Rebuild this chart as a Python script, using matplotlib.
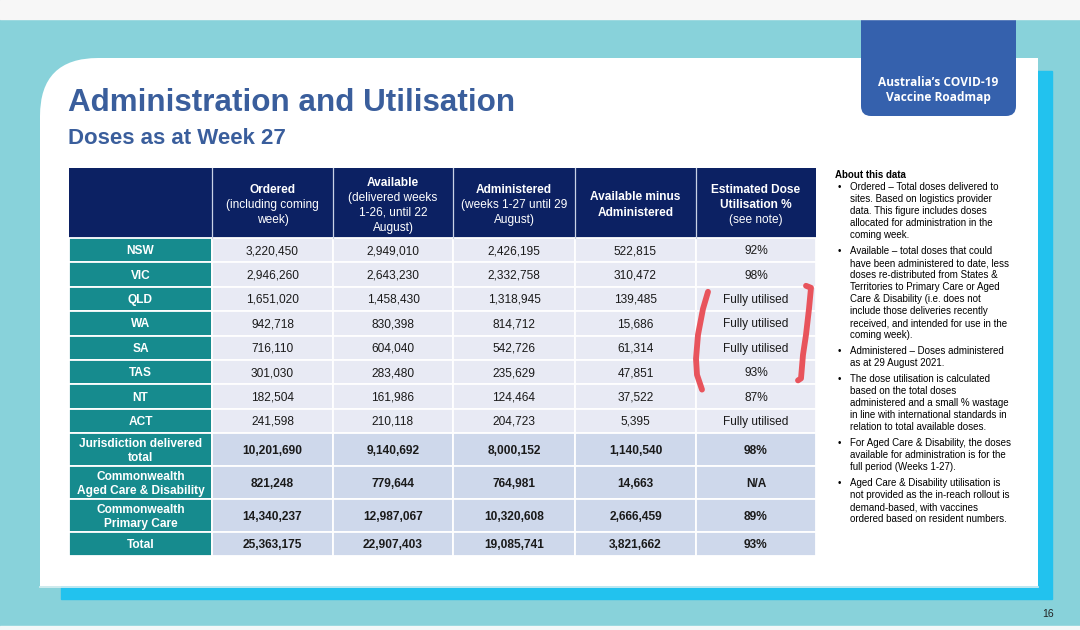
"""Slide recreation: COVID-19 vaccine administration and utilisation table (week 27)."""

import matplotlib.pyplot as plt
from matplotlib.patches import Rectangle, FancyBboxPatch, PathPatch
from matplotlib.path import Path

plt.rcParams["font.family"] = ["Liberation Sans", "DejaVu Sans"]

W, H = 1080, 630

# ---- table data -------------------------------------------------------------
row_labels = [
    "NSW", "VIC", "QLD", "WA", "SA", "TAS", "NT", "ACT",
    "Jurisdiction delivered\ntotal",
    "Commonwealth\nAged Care & Disability",
    "Commonwealth\nPrimary Care",
    "Total",
]
ordered = [3220450, 2946260, 1651020, 942718, 716110, 301030, 182504, 241598,
           10201690, 821248, 14340237, 25363175]
available = [2949010, 2643230, 1458430, 830398, 604040, 283480, 161986, 210118,
             9140692, 779644, 12987067, 22907403]
administered = [2426195, 2332758, 1318945, 814712, 542726, 235629, 124464, 204723,
                8000152, 764981, 10320608, 19085741]
available_minus_admin = [522815, 310472, 139485, 15686, 61314, 47851, 37522, 5395,
                         1140540, 14663, 2666459, 3821662]
utilisation = ["92%", "98%", "Fully utilised", "Fully utilised", "Fully utilised",
               "93%", "87%", "Fully utilised", "98%", "N/A", "89%", "93%"]
summary_rows = [8, 9, 10, 11]

header_lines = [
    ["Ordered", "(including coming", "week)"],
    ["Available", "(delivered weeks", "1-26, until 22", "August)"],
    ["Administered", "(weeks 1-27 until 29", "August)"],
    ["Available minus", "Administered"],
    ["Estimated Dose", "Utilisation %", "(see note)"],
]
header_bold_count = [1, 1, 1, 2, 2]

notes = [
    ["Ordered \u2013 Total doses delivered to",
     "sites. Based on logistics provider",
     "data. This figure includes doses",
     "allocated for administration in the",
     "coming week."],
    ["Available \u2013 total doses that could",
     "have been administered to date, less",
     "doses re-distributed from States &",
     "Territories to Primary Care or Aged",
     "Care & Disability (i.e. does not",
     "include those deliveries recently",
     "received, and intended for use in the",
     "coming week)."],
    ["Administered \u2013 Doses administered",
     "as at 29 August 2021."],
    ["The dose utilisation is calculated",
     "based on the total doses",
     "administered and a small % wastage",
     "in line with international standards in",
     "relation to total available doses."],
    ["For Aged Care & Disability, the doses",
     "available for administration is for the",
     "full period (Weeks 1-27)."],
    ["Aged Care & Disability utilisation is",
     "not provided as the in-reach rollout is",
     "demand-based, with vaccines",
     "ordered based on resident numbers."],
]

# ---- layout / colours -------------------------------------------------------
COL_EDGES = [69, 212, 333, 453, 575, 696, 816]
HEADER_TOP, HEADER_BOTTOM = 168, 238
ROW_HEIGHTS = [24.4] * 8 + [33, 33, 33, 24]

TEAL_BG = "#88D2DA"
CYAN = "#22C2EE"
BADGE = "#3561AD"
TITLE_BLUE = "#3A5E9C"
HEADER_NAVY = "#0C2163"
LABEL_TEAL = "#168B8E"
CELL_LIGHT = "#E8EAF4"
CELL_SUMMARY = "#CED8EB"
TEXT_DARK = "#1A1A1A"
RED_PEN = "#E8545C"


def fmt(v):
    return f"{v:,}"


fig = plt.figure(figsize=(10.8, 6.3), dpi=100)
ax = fig.add_axes([0, 0, 1, 1])
ax.set_xlim(0, W)
ax.set_ylim(H, 0)
ax.axis("off")

# background pieces
ax.add_patch(Rectangle((0, 0), W, H, color=TEAL_BG, zorder=0))
ax.add_patch(Rectangle((0, 0), W, 19, color="#F7F7F7", zorder=5))
ax.add_patch(Rectangle((0, 626), W, 4, color="#F3F8F8", zorder=5))
ax.add_patch(Rectangle((61, 71), 1052 - 61, 599 - 71, color=CYAN, zorder=1))

# white card with a rounded top-left corner
R = 58
card = Path(
    [(40 + R, 58), (1038, 58), (1038, 586), (40, 586), (40, 58 + R), (40, 58), (40 + R, 58), (40 + R, 58)],
    [Path.MOVETO, Path.LINETO, Path.LINETO, Path.LINETO, Path.LINETO, Path.CURVE3, Path.CURVE3, Path.CLOSEPOLY],
)
ax.add_patch(PathPatch(card, facecolor="white", edgecolor="none", zorder=2))
ax.plot([40, 1038], [586.5, 586.5], color="#DDEFF2", lw=1.2, zorder=2)

# roadmap badge
ax.add_patch(FancyBboxPatch((861, 0), 155, 116, boxstyle="round,pad=0,rounding_size=10",
                            facecolor=BADGE, edgecolor="none", zorder=4))
ax.text(938.5, 90, "Australia\u2019s COVID-19\nVaccine Roadmap", ha="center", va="center",
        color="white", fontsize=8.6, fontweight="bold", linespacing=1.3,
        family=["Open Sans", "DejaVu Sans"], zorder=6)

# titles
ax.text(68, 103, "Administration and Utilisation", ha="left", va="center",
        fontsize=22.6, fontweight="bold", color=TITLE_BLUE, zorder=3)
ax.text(68, 139, "Doses as at Week 27", ha="left", va="center",
        fontsize=16, fontweight="bold", color=TITLE_BLUE, zorder=3)

# ---- table ------------------------------------------------------------------
ax.add_patch(Rectangle((COL_EDGES[0], HEADER_TOP), COL_EDGES[-1] - COL_EDGES[0],
                       HEADER_BOTTOM - HEADER_TOP, facecolor=HEADER_NAVY, edgecolor="none", zorder=3))
for x in COL_EDGES[1:-1]:
    ax.plot([x, x], [HEADER_TOP, HEADER_BOTTOM], color="#C9D2E6", lw=0.9, zorder=4)

header_mid = (HEADER_TOP + HEADER_BOTTOM) / 2 + 2
for c, lines in enumerate(header_lines):
    xc = (COL_EDGES[c + 1] + COL_EDGES[c + 2]) / 2
    n = len(lines)
    for i, line in enumerate(lines):
        y = header_mid + (i - (n - 1) / 2) * 15
        ax.text(xc, y, line, ha="center", va="center", color="white", fontsize=8.6,
                fontweight="bold" if i < header_bold_count[c] else "normal", zorder=5)

columns = [
    [fmt(v) for v in ordered],
    [fmt(v) for v in available],
    [fmt(v) for v in administered],
    [fmt(v) for v in available_minus_admin],
    utilisation,
]

row_tops = [HEADER_BOTTOM]
for h in ROW_HEIGHTS:
    row_tops.append(row_tops[-1] + h)

for r, label in enumerate(row_labels):
    y0, y1 = row_tops[r], row_tops[r + 1]
    ym = (y0 + y1) / 2
    summary = r in summary_rows
    ax.add_patch(Rectangle((COL_EDGES[0], y0), COL_EDGES[1] - COL_EDGES[0], y1 - y0,
                           facecolor=LABEL_TEAL, edgecolor="white", lw=1.3, zorder=3))
    ax.text((COL_EDGES[0] + COL_EDGES[1]) / 2, ym + 1, label, ha="center", va="center",
            color="white", fontsize=8.6, fontweight="bold", linespacing=1.2, zorder=5)
    for c, col in enumerate(columns):
        x0, x1 = COL_EDGES[c + 1], COL_EDGES[c + 2]
        ax.add_patch(Rectangle((x0, y0), x1 - x0, y1 - y0,
                               facecolor=CELL_SUMMARY if summary else CELL_LIGHT,
                               edgecolor="white", lw=1.3, zorder=3))
        ax.text((x0 + x1) / 2, ym + 1, col[r], ha="center", va="center", color=TEXT_DARK,
                fontsize=8.6, fontweight="bold" if summary else "normal", zorder=5)

# hand-drawn red brackets around the utilisation column
util_left, util_right = COL_EDGES[5], COL_EDGES[6]
qld_top, tas_bottom, nt_mid = row_tops[2], row_tops[6], (row_tops[6] + row_tops[7]) / 2
ax.plot([util_left + 12, util_left + 7, util_left + 2, util_left, util_left + 1, util_left + 6],
        [qld_top + 5, qld_top + 22, qld_top + 48, qld_top + 72, qld_top + 88, nt_mid - 7],
        color=RED_PEN, lw=4.2, solid_capstyle="round", solid_joinstyle="round", zorder=7)
ax.plot([util_right - 10, util_right - 5, util_right - 7, util_right - 10, util_right - 13,
         util_right - 15, util_right - 18],
        [qld_top - 1, qld_top + 1, qld_top + 22, qld_top + 48, qld_top + 68, tas_bottom - 6, tas_bottom - 4],
        color=RED_PEN, lw=4.2, solid_capstyle="round", solid_joinstyle="round", zorder=7)

# ---- notes panel ------------------------------------------------------------
NOTE_SIZE = 7.0
ax.text(835, 175, "About this data", ha="left", va="center", fontsize=NOTE_SIZE,
        fontweight="bold", color="black", zorder=5)
y = 187
for para in notes:
    ax.text(838, y, "\u2022", ha="left", va="center", fontsize=NOTE_SIZE, color="black", zorder=5)
    for line in para:
        ax.text(850, y, line, ha="left", va="center", fontsize=NOTE_SIZE, color="black", zorder=5)
        y += 12
    y += 4

ax.text(1048, 614, "16", ha="center", va="center", fontsize=7.5, color="#222222", zorder=6)

fig.savefig("out.png", dpi=100)
